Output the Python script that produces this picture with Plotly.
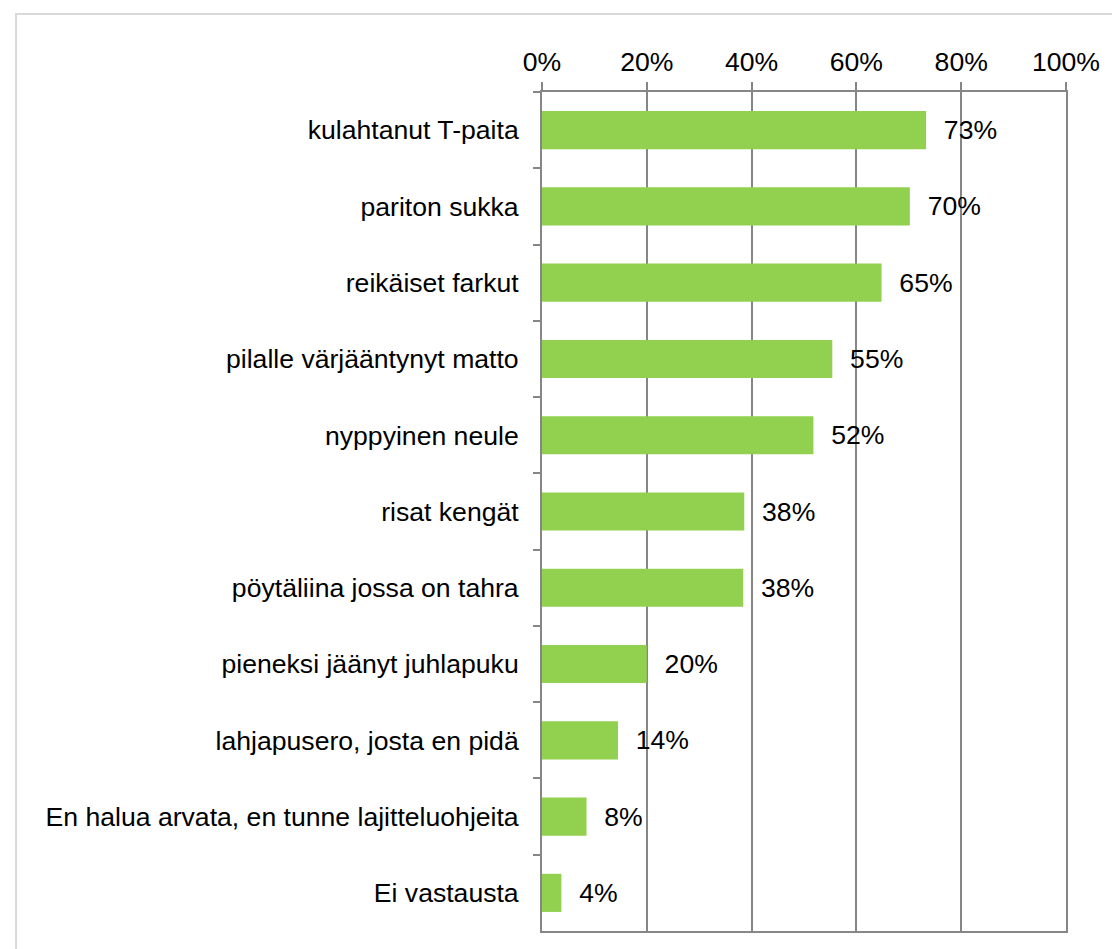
import plotly.graph_objects as go

categories = [
    "kulahtanut T-paita",
    "pariton sukka",
    "reikäiset farkut",
    "pilalle värjääntynyt matto",
    "nyppyinen neule",
    "risat kengät",
    "pöytäliina jossa on tahra",
    "pieneksi jäänyt juhlapuku",
    "lahjapusero, josta en pidä",
    "En halua arvata, en tunne lajitteluohjeita",
    "Ei vastausta",
]
values = [73.3, 70.2, 64.8, 55.4, 51.8, 38.6, 38.4, 20.0, 14.5, 8.5, 3.7]
labels = [73, 70, 65, 55, 52, 38, 38, 20, 14, 8, 4]
tick_vals = [0, 20, 40, 60, 80, 100]
tick_text = ["0%", "20%", "40%", "60%", "80%", "100%"]

FONT = "Liberation Sans, Arial, sans-serif"
GRID = "#868686"
FS = 26.6

W, H = 1112, 949
L, R, T, B = 542, 1073, 92, 931

fig = go.Figure(
    go.Bar(
        x=values,
        y=categories,
        orientation="h",
        marker=dict(color="#92D050", line=dict(width=0)),
        text=["\u00a0\u00a0" + f"{v}%" for v in labels],
        textposition="outside",
        textfont=dict(family=FONT, size=FS, color="#000000"),
        cliponaxis=False,
        hoverinfo="skip",
    )
)

fig.update_layout(
    width=W,
    height=H,
    margin=dict(l=L, r=W - R, t=T, b=H - B, pad=0),
    paper_bgcolor="white",
    plot_bgcolor="white",
    bargap=0.5,
    showlegend=False,
    font=dict(family=FONT, size=FS, color="#000000"),
    xaxis=dict(
        side="top",
        range=[0, 100],
        tickvals=tick_vals,
        ticktext=tick_text,
        showgrid=True,
        gridcolor=GRID,
        gridwidth=2,
        showline=True,
        linecolor=GRID,
        linewidth=2,
        mirror=True,
        ticks="outside",
        ticklen=8,
        tickwidth=2,
        tickcolor=GRID,
        zeroline=False,
        tickfont=dict(family=FONT, size=FS, color="#000000"),
        ticklabelstandoff=0,
        fixedrange=True,
    ),
    yaxis=dict(
        categoryorder="array",
        categoryarray=categories,
        autorange="reversed",
        showgrid=False,
        showline=True,
        linecolor=GRID,
        linewidth=2,
        mirror=True,
        ticks="outside",
        tickson="boundaries",
        ticklen=7,
        tickwidth=2,
        tickcolor=GRID,
        tickfont=dict(family=FONT, size=FS, color="#000000"),
        ticklabelstandoff=16,
        fixedrange=True,
    ),
    shapes=[
        dict(
            type="rect",
            xref="paper",
            yref="paper",
            x0=(9 - L) / (R - L),
            x1=(1125 - L) / (R - L),
            y0=(B - 960) / (B - T),
            y1=(B - 14) / (B - T),
            line=dict(color="#d9d9d9", width=2),
            fillcolor="rgba(0,0,0,0)",
            layer="below",
        )
    ],
)

fig.write_html(
    "out.html",
    config={"displayModeBar": False},
    post_script="document.body.style.margin='0';document.body.style.padding='0';document.body.style.overflow='hidden';",
)
